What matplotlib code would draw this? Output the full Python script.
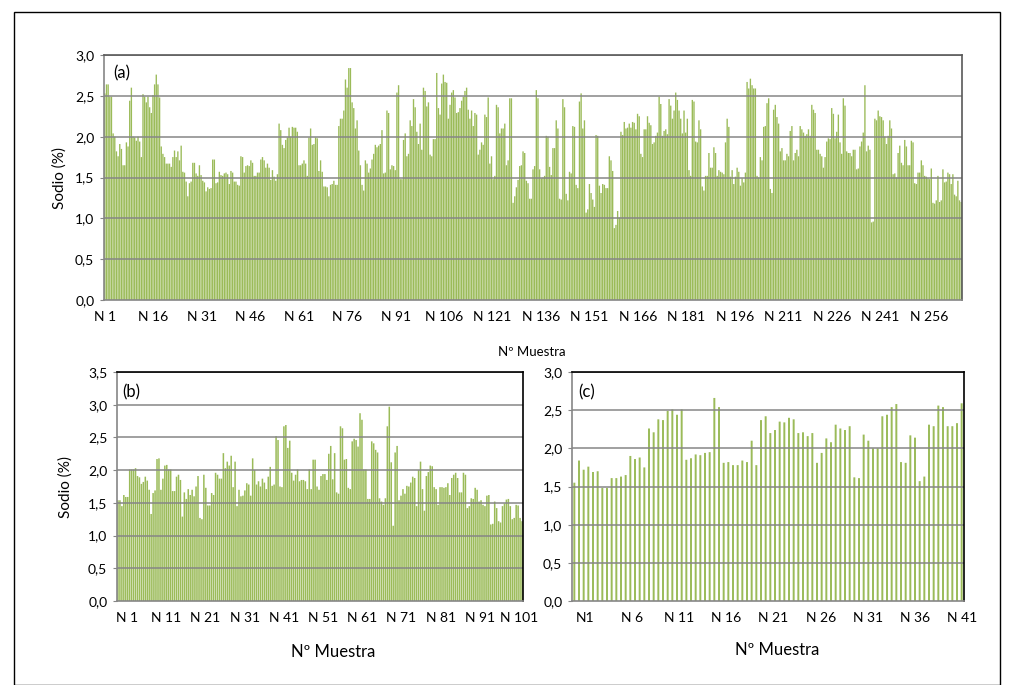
import matplotlib
matplotlib.use("Agg")
import matplotlib.pyplot as plt
import numpy as np
from matplotlib.patches import Rectangle

plt.rcParams['font.family'] = ['Lato', 'DejaVu Sans']

# sodio (%) por muestra, tres series
sodio_a = [
    2.53, 2.64, 2.64, 2.49, 2.49, 2.04, 2.0, 1.82, 1.76, 1.91, 1.85, 1.65, 1.65, 1.93, 1.88, 2.44, 2.6, 2.0, 1.99, 1.95,
    2.0, 1.94, 1.75, 2.52, 2.49, 2.42, 2.49, 2.36, 2.29, 2.51, 2.64, 2.76, 2.64, 2.48, 1.88, 1.79, 1.75, 1.67, 1.67, 1.67,
    1.63, 1.75, 1.83, 1.75, 1.82, 1.71, 1.89, 1.57, 1.56, 1.45, 1.27, 1.43, 1.45, 1.68, 1.68, 1.55, 1.52, 1.65, 1.53, 1.46,
    1.44, 1.33, 1.38, 1.36, 1.37, 1.72, 1.72, 1.43, 1.44, 1.57, 1.53, 1.52, 1.55, 1.56, 1.54, 1.42, 1.58, 1.56, 1.45, 1.45,
    1.41, 1.40, 1.76, 1.75, 1.56, 1.64, 1.65, 1.64, 1.71, 1.68, 1.52, 1.52, 1.56, 1.56, 1.72, 1.75, 1.71, 1.62, 1.67, 1.62,
    1.47, 1.59, 1.51, 1.46, 1.54, 2.16, 2.08, 1.90, 1.86, 1.96, 1.99, 2.11, 2.0, 2.12, 2.11, 2.11, 2.06, 1.65, 1.65, 1.67,
    1.71, 1.67, 1.52, 1.99, 2.10, 1.90, 1.91, 1.99, 1.98,
    1.58, 1.71, 1.57, 1.39, 1.39, 1.38, 1.27, 1.41, 1.42, 1.46, 1.41, 1.41, 2.13, 2.22, 2.22, 2.32, 2.70, 2.60, 2.84, 2.84,
    2.42, 2.35, 2.10, 2.20, 1.83, 1.65, 1.41, 1.34, 1.71, 1.67, 1.56, 1.61, 1.72, 1.79, 1.90, 1.87, 1.89, 1.91, 2.08, 1.55,
    1.56, 2.32, 2.29, 1.60, 1.65, 1.64, 1.59, 2.54, 2.63, 1.48, 1.48, 1.96, 2.04, 1.76, 1.79, 2.20, 2.13, 2.46, 2.36, 2.06,
    1.91, 2.16, 1.84, 2.60, 2.56, 2.37, 2.42, 1.78, 1.76, 1.97, 1.97, 2.78, 2.35, 2.27, 2.65, 2.76, 2.67, 2.66, 2.22, 2.39,
    2.54, 2.57, 2.48, 2.29, 2.30, 2.35, 2.44, 2.49, 2.56, 2.60, 2.33, 2.22, 2.32, 2.13, 2.29, 2.27, 1.78, 1.84, 1.93, 1.90,
    2.27, 2.24, 2.48, 1.67, 1.76, 1.48, 1.52, 2.39, 2.36, 2.04, 2.10, 2.10, 2.16, 1.65, 1.71, 2.47, 2.47, 1.19, 1.27, 1.38,
    1.47,
    1.64, 1.65, 1.82, 1.80, 1.46, 1.43, 1.24, 1.24, 1.60, 1.64, 2.57, 2.47, 1.60, 1.49, 1.50, 1.52, 2.01, 2.00, 1.63, 1.53,
    1.86, 1.86, 2.20, 2.10, 1.24, 1.23, 2.46, 2.36, 1.30, 1.22, 1.57, 1.55, 2.13, 2.12, 1.41, 1.37, 2.43, 2.53, 2.10, 2.20,
    1.07, 1.11, 1.42, 1.31, 1.23, 1.14, 2.02, 2.01, 1.40, 1.31, 1.42, 1.41, 1.37, 1.37, 1.76, 1.71, 1.58, 0.88, 0.92, 1.09,
    1.01, 2.06, 2.02, 2.18, 2.10, 2.11, 2.16, 2.11, 2.18, 2.17, 2.09, 2.28, 2.25, 1.79, 1.75, 2.09, 2.09, 2.25, 2.17, 2.14,
    1.91, 1.93, 2.01, 2.05, 2.49, 2.40, 2.01, 2.07, 2.09, 2.03, 2.46, 2.38, 2.22, 2.32, 2.54, 2.45, 2.32, 2.22, 2.04, 2.32,
    2.05, 2.22, 1.59, 1.52, 2.45, 2.43, 1.94, 1.93, 2.20, 2.09, 1.39, 1.34, 1.52, 1.52, 1.80, 1.62, 1.62, 1.87, 1.80, 1.52,
    1.59, 1.57, 1.56, 1.54, 1.93, 2.22, 2.12, 1.51,
    1.59, 1.42, 1.51, 1.62, 1.57, 1.40, 1.49, 1.44, 1.56, 2.67, 2.59, 2.71, 2.63, 2.59, 2.59, 1.52, 1.50, 1.75, 1.71, 2.12,
    2.13, 2.41, 2.47, 1.36, 1.31, 2.33, 2.39, 2.24, 2.16, 1.82, 1.86, 1.71, 1.71, 1.79, 1.76, 2.07, 2.13, 1.71, 1.80, 1.84,
    1.76, 2.13, 2.09, 2.05, 2.01, 2.03, 2.09, 2.01, 2.39, 2.33, 2.29, 1.84, 1.84, 1.79, 1.76, 1.62, 1.75, 1.94, 1.98, 1.97,
    2.35, 2.28, 1.98, 2.06, 2.27, 1.93, 1.79, 2.47, 2.38, 1.82, 1.80, 1.80, 1.76, 1.84, 1.84, 1.60, 1.61, 1.88, 1.94, 2.05,
    2.63, 1.82, 1.89, 1.84, 0.95, 0.96, 2.22, 2.20, 2.32, 2.25, 2.24, 2.20, 2.00, 1.91, 2.01, 2.20, 2.10, 1.54, 1.55, 1.50,
    1.80, 1.89, 1.68, 1.65, 1.96, 1.88, 1.65, 1.65, 1.95, 1.93, 1.43, 1.42, 1.56, 1.56, 1.71, 1.65, 1.52, 1.51, 1.49, 1.48,
    1.61, 1.19, 1.18, 1.22, 1.52, 1.20, 1.22, 1.60, 1.44, 1.45, 1.56, 1.54, 1.42, 1.54, 1.29, 1.27, 1.46, 1.22, 1.20,
]

sodio_b = [
    1.54, 1.54, 1.45, 1.62, 1.59, 1.59, 2.01, 2.01, 2.01, 2.03, 1.91, 1.89, 1.79, 1.82, 1.90, 1.84, 1.70, 1.33, 1.65, 1.69,
    2.17, 2.18, 1.70, 1.87, 2.07, 2.08, 2.01, 2.01, 1.68, 1.68, 1.90, 1.93, 1.85, 1.29, 1.66, 1.56, 1.71, 1.62, 1.70, 1.60,
    1.75, 1.91, 1.27, 1.25, 1.93, 1.73, 1.46, 1.46, 1.65, 1.62, 1.96, 1.93, 1.87, 1.87, 2.26, 2.03, 2.13, 2.07, 2.22, 1.74,
    2.13, 1.45, 1.70, 1.60, 1.61, 1.69, 1.80, 1.78, 1.61, 2.18, 2.00, 1.78, 1.83, 1.75, 1.87, 1.81, 1.71, 1.90, 2.05, 1.76,
    1.78, 2.52, 2.46, 1.75, 1.74, 2.67, 2.69, 2.34, 2.45, 1.96, 1.84, 1.93, 2.01, 1.83, 1.85, 1.85, 1.83, 1.71, 2.01,
    1.71, 2.16, 2.16, 1.75, 1.70, 1.91, 1.94, 1.94, 1.85, 2.25, 2.37, 1.86, 2.26, 1.66, 1.64, 2.67, 2.64, 2.16, 2.17, 1.73,
    1.71, 2.44, 2.48, 2.46, 2.36, 2.87, 2.77, 2.01, 2.01, 1.56, 1.56, 2.44, 2.41, 2.31, 2.27, 1.57, 1.52, 1.47, 1.57, 2.67,
    2.97, 2.12, 1.15, 2.27, 2.37, 1.54, 1.61, 1.71, 1.64, 1.76, 1.75, 1.81, 1.90, 1.88, 1.45, 2.00, 2.13, 1.71, 1.38, 1.91,
    1.97, 2.07, 2.06, 1.74, 1.71, 1.47, 1.74, 1.74, 1.73, 1.74, 1.80, 1.62, 1.88, 1.93, 1.96, 1.88, 1.66, 1.66, 1.96, 1.93,
    1.42, 1.45, 1.57, 1.56, 1.73, 1.70, 1.52, 1.54, 1.47, 1.45, 1.61, 1.62, 1.17, 1.18, 1.52, 1.42, 1.22, 1.20, 1.45, 1.49,
    1.55, 1.56, 1.45, 1.25, 1.27, 1.47, 1.46, 1.27, 1.22,
]

sodio_c = [
    1.55, 1.84, 1.72, 1.76, 1.69, 1.70, 1.48, 1.48, 1.61, 1.61, 1.63, 1.65, 1.90, 1.86, 1.88, 1.75, 2.26, 2.21, 2.38, 2.37,
    2.49, 2.51, 2.44, 2.51, 1.85, 1.87, 1.92, 1.91, 1.94, 1.95, 2.66, 2.54, 1.81, 1.82, 1.78, 1.78, 1.84, 1.82, 2.10, 1.78,
    2.37, 2.42, 2.20, 2.24, 2.35, 2.34, 2.40, 2.38, 2.20, 2.21, 2.16, 2.20, 1.81, 1.94, 2.13, 2.08, 2.31, 2.26, 2.24, 2.29,
    1.62, 1.61, 2.18, 2.10, 2.00, 2.00, 2.42, 2.44, 2.54, 2.58, 1.82, 1.81, 2.17, 2.14, 1.57, 1.63, 2.31, 2.29, 2.56, 2.54,
    2.29, 2.29, 2.33, 2.59,
]

labels_a = ['N %d' % n for n in range(1, 257, 15)]
labels_b = ['N %d' % n for n in range(1, 102, 10)]
labels_c = ['N1'] + ['N %d' % n for n in range(6, 42, 5)]

verde = '#9bbb59'
gris = '#868686'

fig = plt.figure(figsize=(10.12, 6.85), dpi=100)
W, H = 1012.0, 685.0

def box(l, t, r, b):
    return [l / W, 1 - b / H, (r - l) / W, (b - t) / H]

def panel(rect, vals, ymax, labels, f0, f1, width, spine_top):
    ax = fig.add_axes(rect)
    n = len(vals)
    x = np.arange(n)
    bars = ax.bar(x, vals, width=width, color=verde, linewidth=0, zorder=1)
    for b in bars:
        b.set_snap(False)
    ax.set_xlim(-0.5, n - 0.5)
    ax.set_ylim(0, ymax)
    yt = np.arange(0, ymax + 0.01, 0.5)
    ax.set_yticks(yt)
    ax.set_yticklabels([('%.1f' % v).replace('.', ',') for v in yt], fontsize=10)
    for v in yt[1:]:
        ax.axhline(v, color=gris, lw=1.1, zorder=2)
    ticks = np.linspace(f0, f1, len(labels)) * n - 0.5
    ax.set_xticks(ticks)
    ax.set_xticklabels(labels, fontsize=10)
    ax.tick_params(axis='x', length=0, pad=8)
    ax.tick_params(axis='y', length=3, color=gris, pad=4)
    for s in ['left', 'bottom']:
        ax.spines[s].set_color(gris)
        ax.spines[s].set_linewidth(1.2)
    for s in ['top', 'right']:
        ax.spines[s].set_color(spine_top)
        ax.spines[s].set_linewidth(1.2)
    return ax

ax_a = panel(box(104, 55, 962, 300), sodio_a, 3.0, labels_a, 0.001, 0.9615, 0.82, '#595959')
ax_b = panel(box(117, 372, 523, 601), sodio_b, 3.5, labels_b, 0.025, 0.99, 0.78, 'black')
ax_c = panel(box(572, 372, 964, 601), sodio_c, 3.0, labels_c, 0.033, 0.995, 0.42, 'black')

# etiquetas del panel
fig.text(113 / W, 1 - 73 / H, '(a)', fontsize=12, va='center')
fig.text(122 / W, 1 - 392 / H, '(b)', fontsize=12, va='center')
fig.text(578 / W, 1 - 392 / H, '(c)', fontsize=12, va='center')

fig.text(60 / W, 1 - 178 / H, 'Sodio (%)', rotation=90, fontsize=11, ha='center', va='center')
fig.text(66 / W, 1 - 487 / H, 'Sodio (%)', rotation=90, fontsize=11, ha='center', va='center')
fig.text(532 / W, 1 - 352 / H, 'Nº Muestra', fontsize=9.5, ha='center', va='center')
fig.text(333 / W, 1 - 652 / H, 'Nº Muestra', fontsize=12, ha='center', va='center')
fig.text(777 / W, 1 - 650 / H, 'Nº Muestra', fontsize=12, ha='center', va='center')

# marco exterior
fig.patches.append(Rectangle((14 / W, 0.0), (1000 - 14) / W, 1 - 12 / H, transform=fig.transFigure,
                             fill=False, edgecolor='black', lw=1.0))

fig.savefig('out.png', dpi=100)
